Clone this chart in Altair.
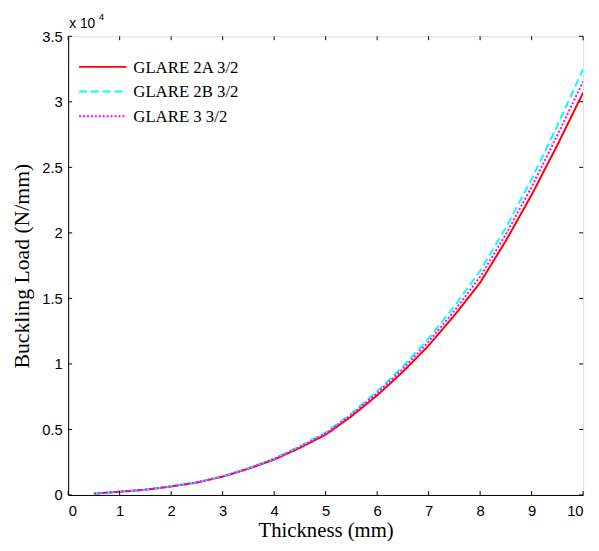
import altair as alt
import pandas as pd

thickness = [0.5, 1, 1.5, 2, 2.5, 3, 3.5, 4, 4.5, 5, 5.5, 6, 6.5, 7, 7.5, 8, 8.5, 9, 9.5, 10]
glare_2a = [0.01, 0.025, 0.04, 0.065, 0.095, 0.14, 0.20, 0.27, 0.36, 0.46, 0.60, 0.76, 0.94, 1.14, 1.37, 1.62, 1.94, 2.29, 2.67, 3.07]
glare_2b = [0.01, 0.025, 0.04, 0.066, 0.097, 0.143, 0.205, 0.278, 0.372, 0.477, 0.622, 0.792, 0.98, 1.195, 1.44, 1.71, 2.04, 2.41, 2.82, 3.25]
glare_3 = [0.01, 0.025, 0.04, 0.065, 0.096, 0.142, 0.203, 0.275, 0.367, 0.47, 0.612, 0.778, 0.962, 1.17, 1.405, 1.665, 1.99, 2.35, 2.745, 3.155]
series_names = ["GLARE 2A 3/2", "GLARE 2B 3/2", "GLARE 3 3/2"]
series_colors = ["#ff0000", "#00ffff", "#ff00ff"]
series_dashes = [[1, 0], [8, 4], [2, 2]]
x_ticks = [0, 1, 2, 3, 4, 5, 6, 7, 8, 9, 10]
y_ticks = [0, 0.5, 1, 1.5, 2, 2.5, 3, 3.5]

rows = []
for name, vals in zip(series_names, [glare_2a, glare_2b, glare_3]):
    for t, v in zip(thickness, vals):
        rows.append({"t": t, "v": v, "series": name})
df = pd.DataFrame(rows)
xt = pd.DataFrame({"t": x_ticks})
yt = pd.DataFrame({"v": y_ticks})
one = pd.DataFrame({"k": [0]})

W, H = 522, 465
xs = alt.Scale(domain=[0, 10], nice=False, zero=False)
ys = alt.Scale(domain=[0, 3.5], nice=False)

x_axis = alt.Axis(values=x_ticks, title="Thickness (mm)", tickSize=0, labelPadding=9,
                  labelFont="Liberation Sans", labelFontSize=15, labelColor="black",
                  titleFont="Liberation Serif", titleFontSize=21, titleFontWeight="normal",
                  titleColor="black", titlePadding=1, domainColor="black", grid=False)
y_axis = alt.Axis(values=y_ticks, title="Buckling Load (N/mm)", format="~g", tickSize=0, labelPadding=6,
                  labelFont="Liberation Sans", labelFontSize=15, labelColor="black",
                  titleFont="Liberation Serif", titleFontSize=22, titleFontWeight="normal",
                  titleColor="black", titlePadding=8, domainColor="black", grid=False)

X = alt.X("t:Q", scale=xs, axis=x_axis)
Y = alt.Y("v:Q", scale=ys, axis=y_axis)

lines = alt.Chart(df).mark_line(strokeWidth=2, clip=True).encode(
    x=X, y=Y,
    color=alt.Color("series:N", scale=alt.Scale(domain=series_names, range=series_colors), legend=None),
    strokeDash=alt.StrokeDash("series:N", scale=alt.Scale(domain=series_names, range=series_dashes), legend=None),
)

tk = 4
bottom = alt.Chart(xt).mark_rule(color="black", strokeWidth=1).encode(x=X, y=alt.value(H), y2=alt.value(H - tk))
top = alt.Chart(xt).mark_rule(color="black", strokeWidth=1).encode(x=X, y=alt.value(0), y2=alt.value(tk))
left = alt.Chart(yt).mark_rule(color="black", strokeWidth=1).encode(y=Y, x=alt.value(0), x2=alt.value(tk))
right = alt.Chart(yt).mark_rule(color="black", strokeWidth=1).encode(y=Y, x=alt.value(W), x2=alt.value(W - tk))

exp_base = alt.Chart(one).mark_text(text="x 10", align="left", baseline="middle", font="Liberation Sans",
                                    fontSize=14, color="black").encode(x=alt.value(1), y=alt.value(-12))
exp_sup = alt.Chart(one).mark_text(text="4", align="left", baseline="middle", font="Liberation Sans",
                                   fontSize=10, color="black").encode(x=alt.value(31), y=alt.value(-20))

legend_layers = []
for i, (name, col, dash) in enumerate(zip(series_names, series_colors, series_dashes)):
    yy = 31 + 25 * i
    legend_layers.append(
        alt.Chart(one).mark_rule(color=col, strokeWidth=2, strokeDash=dash).encode(
            x=alt.value(11), x2=alt.value(59), y=alt.value(yy)))
    legend_layers.append(
        alt.Chart(one).mark_text(text=name, align="left", baseline="middle", font="Liberation Serif",
                                 fontSize=17, color="black").encode(x=alt.value(66), y=alt.value(yy + 1)))

chart = alt.layer(lines, bottom, top, left, right, exp_base, exp_sup, *legend_layers).properties(
    width=W, height=H,
    autosize=alt.AutoSizeParams(type="none"),
    padding={"left": 61, "top": 25, "right": 8, "bottom": 45},
).configure_view(stroke="black", strokeWidth=1).configure(background="white")

chart.save("out.html", embed_options={"renderer": "svg", "actions": False})
